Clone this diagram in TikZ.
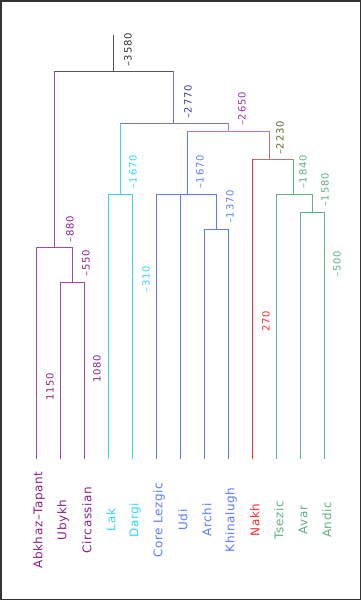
\documentclass[tikz,border=0pt]{standalone}
\usepackage{fontspec}
\newfontfamily\leaffont[LetterSpace=5]{DejaVu Sans}
\newfontfamily\agefont[LetterSpace=8]{DejaVu Sans}
\definecolor{framec}{HTML}{333333}
\definecolor{rootc}{HTML}{555555}
\definecolor{roott}{HTML}{333333}
\definecolor{abkc}{HTML}{AA44AA}
\definecolor{abkt}{HTML}{882288}
\definecolor{necc}{HTML}{7474C4}
\definecolor{nect}{HTML}{3A3A99}
\definecolor{ecnc}{HTML}{BE74D0}
\definecolor{ecnt}{HTML}{993399}
\definecolor{navc}{HTML}{BB7272}
\definecolor{navt}{HTML}{666633}
\definecolor{lkdc}{HTML}{33D6FF}
\definecolor{lzgc}{HTML}{5B7BFF}
\definecolor{nakhc}{HTML}{FF2B2B}
\definecolor{avc}{HTML}{5FB283}
\tikzset{
  branch/.style={line width=1pt, line cap=rect},
  leaflbl/.style={rotate=90, inner sep=0pt, font=\leaffont\fontsize{12}{14}\selectfont},
  agelbl/.style={rotate=90, inner sep=0pt, font=\agefont\fontsize{10}{12}\selectfont},
}
\begin{document}
\begin{tikzpicture}[x=1pt, y=-1pt]
    \useasboundingbox (0,0) rectangle (361,600);
    \draw[line width=1.5pt, framec] (0.75,0.75) rectangle (360.25,599.25);

    % innere Knoten
    \coordinate (top) at (113,35);
    \coordinate (root) at (113,71);
    \coordinate (abk) at (54,247);
    \coordinate (ubc) at (72,282);
    \coordinate (nec) at (173,123);
    \coordinate (lkd) at (120,194);
    \coordinate (ecn) at (228,131);
    \coordinate (lzg) at (187,194);
    \coordinate (akh) at (216,229);
    \coordinate (nav) at (269,159);
    \coordinate (ats) at (293,194);
    \coordinate (aan) at (312,212);

    % Blaetter
    \foreach \n [count=\i from 0] in {abkhaz,ubykh,circ,lak,dargi,corelz,udi,archi,khin,nakh,tsez,avar,andic}
        \coordinate (\n) at ({36+24*\i},458);

    % waagerechte Striche
    \foreach \l/\r/\p/\col in {abk/nec/root/rootc, abkhaz/ubc/abk/abkc, ubykh/circ/ubc/abkc,
            lkd/ecn/nec/necc, lak/dargi/lkd/lkdc, lzg/nav/ecn/ecnc, corelz/akh/lzg/lzgc,
            archi/khin/akh/lzgc, nakh/ats/nav/navc, tsez/aan/ats/avc, avar/andic/aan/avc}
        \draw[branch, \col] (\l |- \p) -- (\r |- \p);

    % senkrechte Striche
    \draw[branch, rootc] (top) -- (root);
    \foreach \c/\p/\col in {abk/root/abkc, abkhaz/abk/abkc, ubc/abk/abkc, ubykh/ubc/abkc, circ/ubc/abkc,
            nec/root/necc, lkd/nec/lkdc, lak/lkd/lkdc, dargi/lkd/lkdc, ecn/nec/ecnc,
            lzg/ecn/lzgc, corelz/lzg/lzgc, udi/lzg/lzgc, akh/lzg/lzgc, archi/akh/lzgc, khin/akh/lzgc,
            nav/ecn/navc, nakh/nav/nakhc, ats/nav/avc, tsez/ats/avc, aan/ats/avc, avar/aan/avc, andic/aan/avc}
        \draw[branch, \col] (\c |- \p) -- (\c);

    % Jahreszahlen
    \node[agelbl, roott] (d-root) at (128,50) {–3580};
    \node[agelbl, nect] (d-nec) at (188,102) {–2770};
    \node[agelbl, ecnt] (d-ecn) at (242,109) {–2650};
    \node[agelbl, navt] (d-nav) at (280,138) {–2230};
    \node[agelbl, lkdc] (d-lkd) at (133,172) {–1670};
    \node[agelbl, lzgc] (d-lzg) at (200,172) {–1670};
    \node[agelbl, avc] (d-ats) at (303,172) {–1840};
    \node[agelbl, avc] (d-aan) at (325,190) {–1580};
    \node[agelbl, lzgc] (d-akh) at (230,207) {–1370};
    \node[agelbl, abkt] (d-abk) at (70,229) {–880};
    \node[agelbl, abkt] (d-ubc) at (86,263) {–550};
    \node[agelbl, avc] (d-avar) at (337,264) {–500};
    \node[agelbl, lkdc] (d-dargi) at (146,279) {–310};
    \node[agelbl, nakhc] (d-nakh) at (266,321) {270};
    \node[agelbl, abkt] (d-circ) at (97,369) {1080};
    \node[agelbl, abkt] (d-abkhaz) at (50,387) {1150};

    % Sprachnamen
    \node[leaflbl, abkt] (t-abkhaz) at (39,520) {Abkhaz–Tapant};
    \node[leaflbl, abkt] (t-ubykh) at (63,520) {Ubykh};
    \node[leaflbl, abkt] (t-circ) at (87,520) {Circassian};
    \node[leaflbl, lkdc] (t-lak) at (111,520) {Lak};
    \node[leaflbl, lkdc] (t-dargi) at (135,520) {Dargi};
    \node[leaflbl, lzgc] (t-corelz) at (159,520) {Core Lezgic};
    \node[leaflbl, lzgc] (t-udi) at (183,520) {Udi};
    \node[leaflbl, lzgc] (t-archi) at (207,520) {Archi};
    \node[leaflbl, lzgc] (t-khin) at (231,520) {Khinalugh};
    \node[leaflbl, nakhc] (t-nakh) at (255,520) {Nakh};
    \node[leaflbl, avc] (t-tsez) at (279,520) {Tsezic};
    \node[leaflbl, avc] (t-avar) at (303,520) {Avar};
    \node[leaflbl, avc] (t-andic) at (327,520) {Andic};
\end{tikzpicture}
\end{document}
